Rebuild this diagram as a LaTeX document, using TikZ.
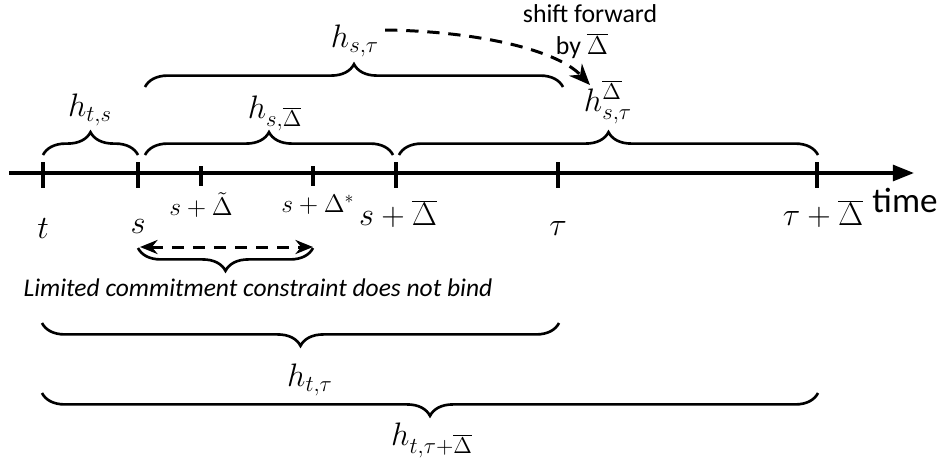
\documentclass[tikz,border=0pt]{standalone}
\usepackage{fix-cm}
\usepackage{fontspec}
\setmainfont{Carlito}
\usetikzlibrary{decorations.pathreplacing,arrows.meta,calc}
\begin{document}
\begin{tikzpicture}[x=0.02cm,y=-0.02cm,
  axisline/.style={line width=1.9pt,-{Triangle[length=12pt,width=9pt]}},
  bigtick/.style={line width=2.2pt},
  brc/.style={line width=1.5pt,decorate,decoration={brace,amplitude=13pt}},
  mlab/.style={font=\fontsize{18.5}{22}\selectfont,inner sep=1pt},
  slab/.style={font=\fontsize{14.5}{17}\selectfont,inner sep=0pt},
  dasharrow/.style={line width=1.7pt,dash pattern=on 7pt off 5pt,-{Stealth[length=12pt,width=10pt]}}]
\useasboundingbox (0,0) rectangle (940,461);
% ticks positions
\coordinate (t) at (43,173);
\coordinate (s) at (138,173);
\coordinate (sdt) at (201,173);
\coordinate (sds) at (313,173);
\coordinate (sdb) at (396,173);
\coordinate (tau) at (558,173);
\coordinate (taudb) at (817,173);
\coordinate (axs) at (9,173);
\coordinate (axe) at (914,173);
\draw[axisline] (axs) -- (axe);
\foreach \p in {t,s,sdb,tau,taudb} \draw[bigtick] (\p) ++(0,-11) -- ++(0,26);
\foreach \p in {sdt,sds} \draw[bigtick] (\p) ++(0,-7) -- ++(0,20);
% tick labels
\node[mlab] (lt) at (43,228) {$t$};
\node[mlab] (ls) at (138,226) {$s$};
\node[slab] (lsdt) at (201,205) {$s+\tilde{\Delta}$};
\node[slab] (lsds) at (318,205) {$s+\Delta^{*}$};
\node[mlab] (lsdb) at (398,214) {$s+\overline{\Delta}$};
\node[mlab] (ltau) at (558,228) {$\tau$};
\node[mlab] (ltaudb) at (823,214) {$\tau+\overline{\Delta}$};
\node[font=\fontsize{20}{22}\selectfont] (time) at (905,200) {time};
% upper braces
\draw[brc] (43,155) -- (138,155);
\node[mlab] (hts) at (90,110) {$h_{t,s}$};
\draw[brc] (145,155) -- (393,155);
\node[mlab] (hsd) at (275,113) {$h_{s,\overline{\Delta}}$};
\draw[brc] (145,87) -- (563,87);
\node[mlab] (hst) at (355,41) {$h_{s,\tau}$};
\draw[brc] (399,155) -- (818,155);
\node[mlab] (hstd) at (608,102) {$h_{s,\tau}^{\overline{\Delta}}$};
% shift arrow
\coordinate (arrend) at (590,85);
\draw[dasharrow] ($(hst.east)+(4,-11)$) .. controls (470,31) and (555,48) .. (arrend);
\node[font=\fontsize{14.7}{17}\selectfont] (shift) at (590,14) {shift forward};
\node[font=\fontsize{14.7}{17}\selectfont] (by) at (582,46) {by $\overline{\Delta}$};
% bottom part
\draw[line width=1.7pt,dash pattern=on 7pt off 5pt,{Stealth[length=10pt,width=8pt]}-{Stealth[length=10pt,width=8pt]}] (140,247) -- (313,247);
\draw[brc] (313,248) -- (138,248);
\node[font=\fontsize{14.5}{17}\selectfont\itshape] (lim) at (258,288) {Limited commitment constraint does not bind};
\draw[brc] (559,323) -- (42,323);
\node[mlab] (htt) at (310,380) {$h_{t,\tau}$};
\draw[brc] (818,393) -- (42,393);
\node[mlab] (httd) at (432,440) {$h_{t,\tau+\overline{\Delta}}$};
\end{tikzpicture}
\end{document}
